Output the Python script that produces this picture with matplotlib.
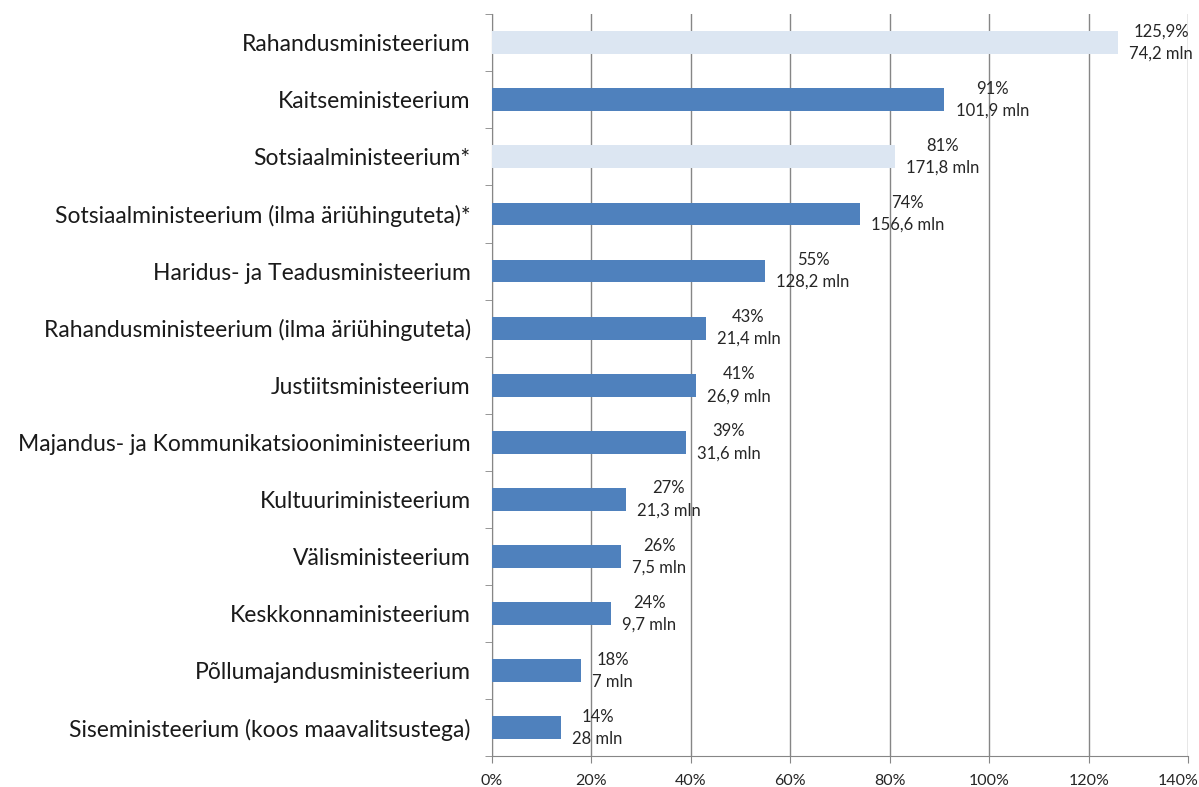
import matplotlib
matplotlib.use("Agg")
import matplotlib.pyplot as plt
import matplotlib.transforms as mtransforms
import numpy as np

ministries = [
    "Rahandusministeerium",
    "Kaitseministeerium",
    "Sotsiaalministeerium*",
    "Sotsiaalministeerium (ilma äriühinguteta)*",
    "Haridus- ja Teadusministeerium",
    "Rahandusministeerium (ilma äriühinguteta)",
    "Justiitsministeerium",
    "Majandus- ja Kommunikatsiooniministeerium",
    "Kultuuriministeerium",
    "Välisministeerium",
    "Keskkonnaministeerium",
    "Põllumajandusministeerium",
    "Siseministeerium (koos maavalitsustega)",
]
percent = [125.9, 91, 81, 74, 55, 43, 41, 39, 27, 26, 24, 18, 14]
pct_labels = ["125,9%", "91%", "81%", "74%", "55%", "43%", "41%", "39%",
              "27%", "26%", "24%", "18%", "14%"]
mln_labels = ["74,2 mln", "101,9 mln", "171,8 mln", "156,6 mln", "128,2 mln",
              "21,4 mln", "26,9 mln", "31,6 mln", "21,3 mln", "7,5 mln",
              "9,7 mln", "7 mln", "28 mln"]
light = [True, False, True] + [False] * 10

plt.rcParams['font.family'] = ['Lato', 'DejaVu Sans']

fig = plt.figure(figsize=(11.99, 7.87), dpi=100)
ax = fig.add_axes([0.41, 0.039, 0.581, 0.943])

n = len(ministries)
y = np.arange(n)[::-1]
colors = ["#DCE6F2" if l else "#4F81BD" for l in light]
ax.barh(y, percent, height=0.4, color=colors, zorder=3)

for yi, p, a, b in zip(y, percent, pct_labels, mln_labels):
    ax.annotate(a + "\n" + b, (p, yi), xytext=(8, 0), textcoords="offset points",
                ha="left", va="center", multialignment="center",
                fontsize=12, color="#262626", linespacing=1.45, zorder=4)

ax.set_xlim(0, 140)
ax.set_ylim(-0.5, n - 0.5)
ax.set_xticks(np.arange(0, 141, 20))
ax.set_xticklabels([f"{v}%" for v in range(0, 141, 20)], fontsize=11.5, color="#262626")
ax.set_yticks(y)
ax.set_yticklabels(ministries, fontsize=16.5, color="#1a1a1a")
ax.set_yticks(np.arange(-0.5, n, 1), minor=True)
ax.tick_params(axis="y", which="major", length=0, pad=15)
ax.tick_params(axis="y", which="minor", length=5, color="#868686")
ax.tick_params(axis="x", length=5, color="#868686", pad=8)
ax.grid(axis="x", color="#868686", linewidth=1, zorder=0)
for s in ["top", "right"]:
    ax.spines[s].set_visible(False)
for s in ["left", "bottom"]:
    ax.spines[s].set_color("#868686")

# keep the last tick label inside the picture
last = ax.get_xticklabels()[-1]
last.set_transform(last.get_transform() + mtransforms.ScaledTranslation(-0.1, 0, fig.dpi_scale_trans))

fig.savefig("out.png", dpi=100)
